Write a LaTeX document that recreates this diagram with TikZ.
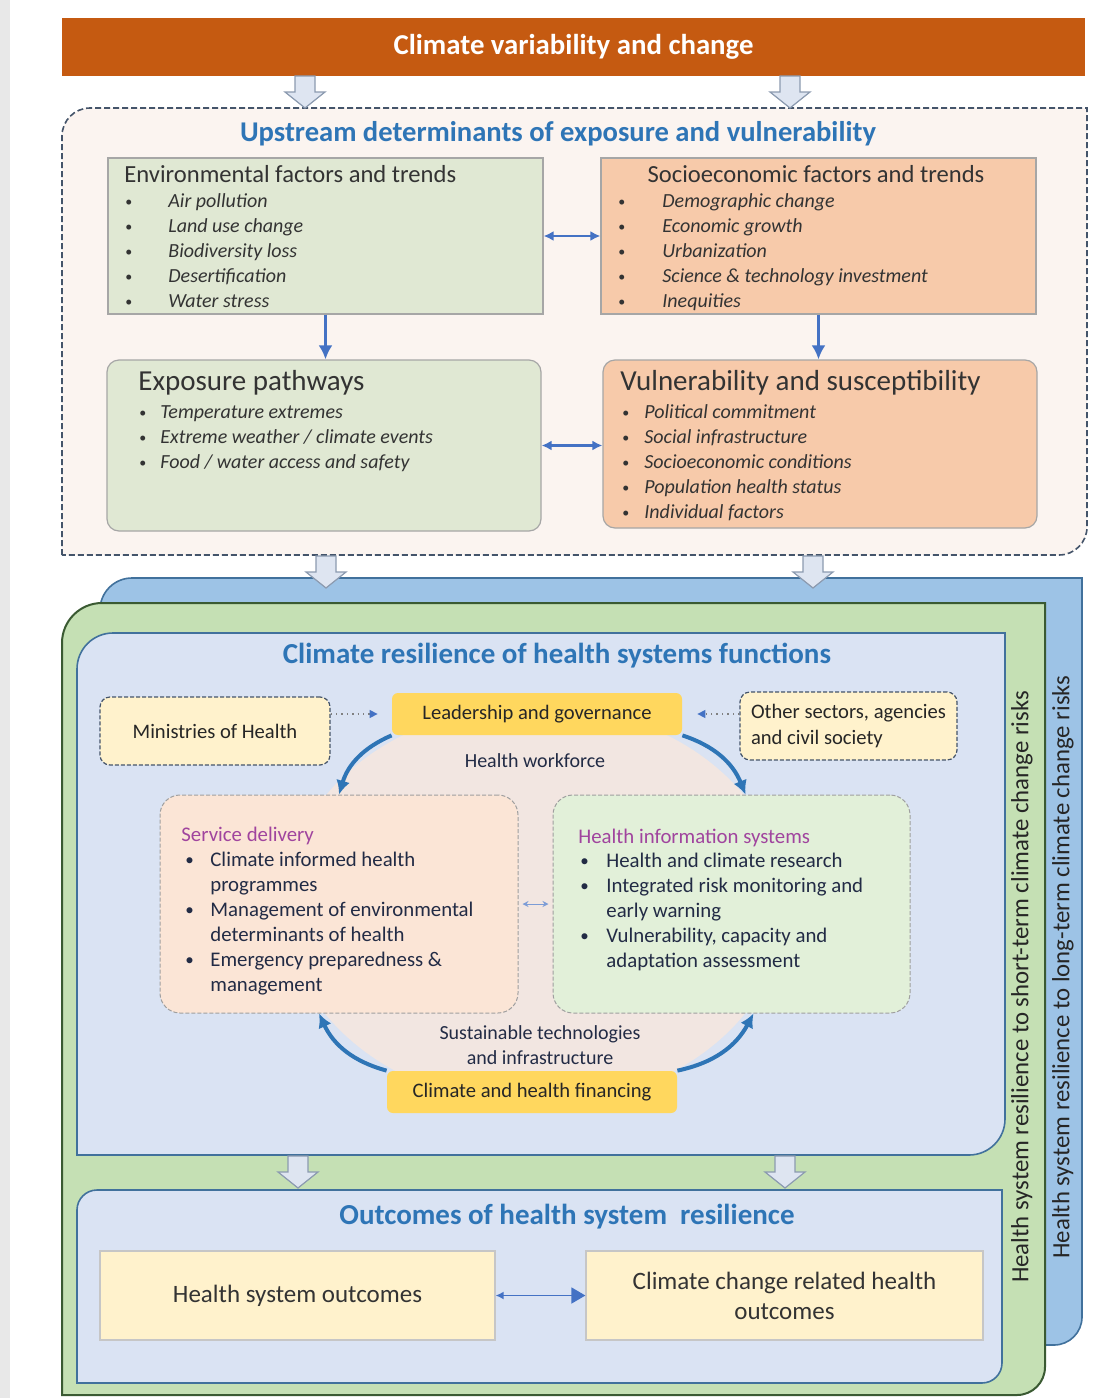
\documentclass[tikz,border=0pt]{standalone}
\usepackage{fontspec}
\setmainfont{Carlito}
\usepackage{tikz}
\usetikzlibrary{arrows.meta,fit,positioning}

\definecolor{stripgray}{HTML}{E8E8E8}
\definecolor{bannerorange}{HTML}{C55A11}
\definecolor{titleblue}{HTML}{2E75B6}
\definecolor{frameslate}{HTML}{44546A}
\definecolor{upfill}{HTML}{FBF4F0}
\definecolor{envgreen}{HTML}{E0E8D3}
\definecolor{socpeach}{HTML}{F7CAAA}
\definecolor{linkblue}{HTML}{4472C4}
\definecolor{longblue}{HTML}{9DC3E6}
\definecolor{longedge}{HTML}{41719C}
\definecolor{shortgreen}{HTML}{C5E0B4}
\definecolor{shortedge}{HTML}{3A5A32}
\definecolor{paleblue}{HTML}{DAE3F3}
\definecolor{gold}{HTML}{FFD75E}
\definecolor{cream}{HTML}{FFF2CC}
\definecolor{servpeach}{HTML}{FBE5D6}
\definecolor{infogreen}{HTML}{E2F0D9}
\definecolor{cyclepink}{HTML}{F2E6E1}
\definecolor{headpurple}{HTML}{A0449E}
\definecolor{navytext}{HTML}{222B45}
\definecolor{hollowfill}{HTML}{DEE5F1}
\definecolor{hollowedge}{HTML}{8C9BB0}

% small list bullets
\newcommand{\smalldot}{\raisebox{0.15ex}{\fontsize{7}{7}\selectfont\textbullet}}
\newcommand{\funcdot}{\raisebox{0.1ex}{\fontsize{8.5}{8.5}\selectfont\textbullet}}

\tikzset{
  panel/.style={inner sep=0pt, draw=gray!70, line width=0.6pt},
  envbox/.style={panel, fill=envgreen},
  socbox/.style={panel, fill=socpeach},
  goldbox/.style={inner sep=0pt, fill=gold, rounded corners=3pt},
  goldtext/.style={inner sep=0pt, font=\fontsize{10.3}{12.5}\selectfont, text=black!85},
  actorbox/.style={inner sep=0pt, fill=cream, draw=frameslate, dash pattern=on 2pt off 1pt, rounded corners=5pt, line width=0.6pt},
  actortext/.style={inner sep=0pt, font=\fontsize{10.3}{13}\selectfont, text=black!85},
  funcbox/.style={inner sep=0pt, draw=gray!75, dash pattern=on 2pt off 1pt, rounded corners=10pt, line width=0.5pt},
  outbox/.style={inner sep=0pt, fill=cream, draw=gray!45, line width=0.6pt},
  outtext/.style={inner sep=0pt, font=\fontsize{12.5}{15}\selectfont, text=black!80},
  heading/.style={font=\fontsize{14.5}{17}\selectfont\bfseries, text=titleblue},
  subhead/.style={inner sep=0pt, font=\fontsize{12.3}{15}\selectfont, text=black!80},
  bighead/.style={inner sep=0pt, font=\fontsize{14.5}{17}\selectfont, text=black!80},
  purplehead/.style={inner sep=0pt, font=\fontsize{10.4}{12.5}\selectfont, text=headpurple},
  itemlist/.style={anchor=north west, inner sep=0pt, font=\fontsize{10}{12.5}\selectfont, text=black!80},
  funclist/.style={anchor=north west, inner sep=0pt, font=\fontsize{10.4}{12.5}\selectfont, text=navytext},
  plainlbl/.style={inner sep=0pt, font=\fontsize{10}{12.5}\selectfont, text=navytext},
  sidetext/.style={inner sep=0pt, font=\fontsize{12.4}{14}\selectfont, text=black!85},
  twolink/.style={{Latex[length=5pt,width=5pt]}-{Latex[length=5pt,width=5pt]}, linkblue, line width=1.2pt},
  downlink/.style={-{Latex[length=7pt,width=7pt]}, linkblue, line width=1.5pt},
  cyclearr/.style={-{Latex[length=7pt,width=7pt]}, titleblue, line width=2pt},
  dotlink/.style={dotted, gray, line width=0.7pt, -{Triangle[length=4pt,width=4pt,color=linkblue]}},
  smalllink/.style={{Stealth[length=3pt,width=3pt]}-{Stealth[length=3pt,width=3pt]}, linkblue!70, line width=0.5pt},
  outlink/.style={{Latex[length=4pt,width=4pt]}-{Triangle[length=7pt,width=8pt]}, linkblue, line width=0.8pt},
  hollow/.style={fill=hollowfill, draw=hollowedge, line width=0.6pt},
  hollowdown/.pic={\draw[hollow] (-10,-16) -- (-10,0) -- (-20,0) -- (0,16) -- (20,0) -- (10,0) -- (10,-16) -- cycle;}
}

\begin{document}
\begin{tikzpicture}[x=0.5pt,y=-0.5pt]
\useasboundingbox (0,0) rectangle (1112,1398);
\fill[white] (0,0) rectangle (1112,1398);
\fill[stripgray] (0,0) rectangle (10,1398);

% top: climate and upstream determinants
\node[fit={(62,18) (1085,76)}, inner sep=0pt, fill=bannerorange] (banner) {};
\node[text=white, font=\fontsize{14.4}{17}\selectfont\bfseries] (bannertxt) at (banner.center) {Climate variability and change};
\draw[frameslate, dash pattern=on 3pt off 1.5pt, line width=0.8pt, fill=upfill] (62,555) [rounded corners=14pt] -- (62,108) [sharp corners] -- (1087,108) [rounded corners=14pt] -- (1087,555) [sharp corners] -- cycle;
\pic (feedA) at (305,92) {hollowdown};
\pic (feedB) at (790,92) {hollowdown};
\node[heading, font=\fontsize{14.3}{17}\selectfont\bfseries] (uptitle) at (558,134) {Upstream determinants of exposure and vulnerability};

\node[envbox, fit={(108,158) (543,314)}] (env) {};
\node[subhead, anchor=west] (envtitle) at (124,174) {Environmental factors and trends};
\node[itemlist] (envlist) at (125,190) {\begin{tabular}{@{}p{21.5pt}@{}l@{}}
  \smalldot & \textit{Air pollution}\\
  \smalldot & \textit{Land use change}\\
  \smalldot & \textit{Biodiversity loss}\\
  \smalldot & \textit{Desertification}\\
  \smalldot & \textit{Water stress}
\end{tabular}};

\node[socbox, fit={(601,158) (1036,314)}] (soc) {};
\node[subhead] (soctitle) at (816,174) {Socioeconomic factors and trends};
\node[itemlist] (soclist) at (618,190) {\begin{tabular}{@{}p{22pt}@{}l@{}}
  \smalldot & \textit{Demographic change}\\
  \smalldot & \textit{Economic growth}\\
  \smalldot & \textit{Urbanization}\\
  \smalldot & \textit{Science \& technology investment}\\
  \smalldot & \textit{Inequities}
\end{tabular}};

\node[envbox, rounded corners=6pt, fit={(107,360) (541,531)}] (expo) {};
\node[bighead, anchor=west] (expotitle) at (138,383) {Exposure pathways};
\node[itemlist] (expolist) at (139,401) {\begin{tabular}{@{}p{10.5pt}@{}l@{}}
  \smalldot & \textit{Temperature extremes}\\
  \smalldot & \textit{Extreme weather / climate events}\\
  \smalldot & \textit{Food / water access and safety}
\end{tabular}};

\node[socbox, rounded corners=6pt, fit={(603,360) (1037,528)}] (vul) {};
\node[bighead, anchor=west] (vultitle) at (620,383) {Vulnerability and susceptibility};
\node[itemlist] (vullist) at (622,401) {\begin{tabular}{@{}p{11pt}@{}l@{}}
  \smalldot & \textit{Political commitment}\\
  \smalldot & \textit{Social infrastructure}\\
  \smalldot & \textit{Socioeconomic conditions}\\
  \smalldot & \textit{Population health status}\\
  \smalldot & \textit{Individual factors}
\end{tabular}};

\draw[twolink] (env.east) -- (soc.west);
\draw[twolink] (expo.east) -- (expo.east -| vul.west);
\draw[downlink] (env.south) -- (env.south |- expo.north);
\draw[downlink] (soc.south) -- (soc.south |- vul.north);

% resilience frames
\draw[longedge, fill=longblue, line width=0.8pt] (100,1345) [rounded corners=16pt] -- (100,578) [sharp corners] -- (1082,578) [rounded corners=14pt] -- (1082,1345) [sharp corners] -- cycle;
\draw[shortedge, fill=shortgreen, line width=1pt] (62,1395) [rounded corners=20pt] -- (62,603) [sharp corners] -- (1045,603) [rounded corners=14pt] -- (1045,1395) [sharp corners] -- cycle;
\draw[longedge, fill=paleblue, line width=0.8pt] (77,1155) [rounded corners=18pt] -- (77,633) [sharp corners] -- (1005,633) [rounded corners=18pt] -- (1005,1155) [sharp corners] -- cycle;
\draw[longedge, fill=paleblue, line width=0.8pt] (77,1383) [rounded corners=10pt] -- (77,1190) [sharp corners] -- (1002,1190) [rounded corners=10pt] -- (1002,1383) [sharp corners] -- cycle;
\pic (feedC) at (326,572) {hollowdown};
\pic (feedD) at (813,572) {hollowdown};
\pic (feedE) at (298,1172) {hollowdown};
\pic (feedF) at (785,1172) {hollowdown};

\node[sidetext, rotate=90] (shortlbl) at (1022,987) {Health system resilience to short-term climate change risks};
\node[sidetext, rotate=90] (longlbl) at (1063,967) {Health system resilience to long-term climate change risks};

% health systems functions
\node[heading] (functitle) at (557,656) {Climate resilience of health systems functions};
\fill[cyclepink] (535,905) ellipse [x radius=125pt, y radius=100pt];

\node[goldbox, fit={(392,693) (682,735)}] (lead) {};
\node[goldtext] (leadtxt) at (lead.center) {Leadership and governance};
\node[actorbox, fit={(100,697) (330,765)}] (moh) {};
\node[actortext] (mohtxt) at (moh.center) {Ministries of Health};
\node[actorbox, fit={(740,692) (957,760)}] (other) {};
\node[actortext, align=left] (othertxt) at (other.center) {Other sectors, agencies\\and civil society};
\draw[dotlink, shorten >=7pt] (moh.east |- lead.west) -- (lead.west);
\draw[dotlink, shorten >=7.5pt] (other.west |- lead.east) -- (lead.east);
\node[plainlbl] (workforce) at (535,761) {Health workforce};

\node[funcbox, fill=servpeach, fit={(160,795) (518,1013)}] (serv) {};
\node[purplehead, anchor=west] (servtitle) at (181,836) {Service delivery};
\node[funclist] (servlist) at (185,849) {\begin{tabular}{@{}p{12.5pt}@{}l@{}}
  \funcdot & Climate informed health\\
  & programmes\\
  \funcdot & Management of environmental\\
  & determinants of health\\
  \funcdot & Emergency preparedness \&\\
  & management
\end{tabular}};

\node[funcbox, fill=infogreen, fit={(553,795) (910,1013)}] (hinfo) {};
\node[purplehead, anchor=west] (hinfotitle) at (578,838) {Health information systems};
\node[funclist] (hinfolist) at (580,850) {\begin{tabular}{@{}p{13pt}@{}l@{}}
  \funcdot & Health and climate research\\
  \funcdot & Integrated risk monitoring and\\
  & early warning\\
  \funcdot & Vulnerability, capacity and\\
  & adaptation assessment
\end{tabular}};
\draw[smalllink, shorten <=2pt, shorten >=2pt] (serv.east) -- (hinfo.west);

\node[plainlbl, align=center] (tech) at (540,1045) {Sustainable technologies\\and infrastructure};
\node[goldbox, fit={(387,1071) (677,1113)}] (fin) {};
\node[goldtext] (fintxt) at (fin.center) {Climate and health financing};

\draw[cyclearr] (lead.south west) to[bend right=25] (serv.north);
\draw[cyclearr] (lead.south east) to[bend left=25] ([xshift=7pt]hinfo.north);
\draw[cyclearr] (fin.north west) to[bend left=25] ([xshift=-10pt]serv.south);
\draw[cyclearr] (fin.north east) to[bend right=25] ([xshift=11pt]hinfo.south);

% outcomes
\node[heading] (outtitle) at (567,1217) {Outcomes of health system~ resilience};
\node[outbox, fit={(100,1251) (495,1340)}] (hso) {};
\node[outtext] (hsotxt) at (hso.center) {Health system outcomes};
\node[outbox, fit={(586,1251) (983,1340)}] (cco) {};
\node[outtext, align=center] (ccotxt) at (cco.center) {Climate change related health\\outcomes};
\draw[outlink] (hso.east) -- (cco.west);
\end{tikzpicture}
\end{document}
